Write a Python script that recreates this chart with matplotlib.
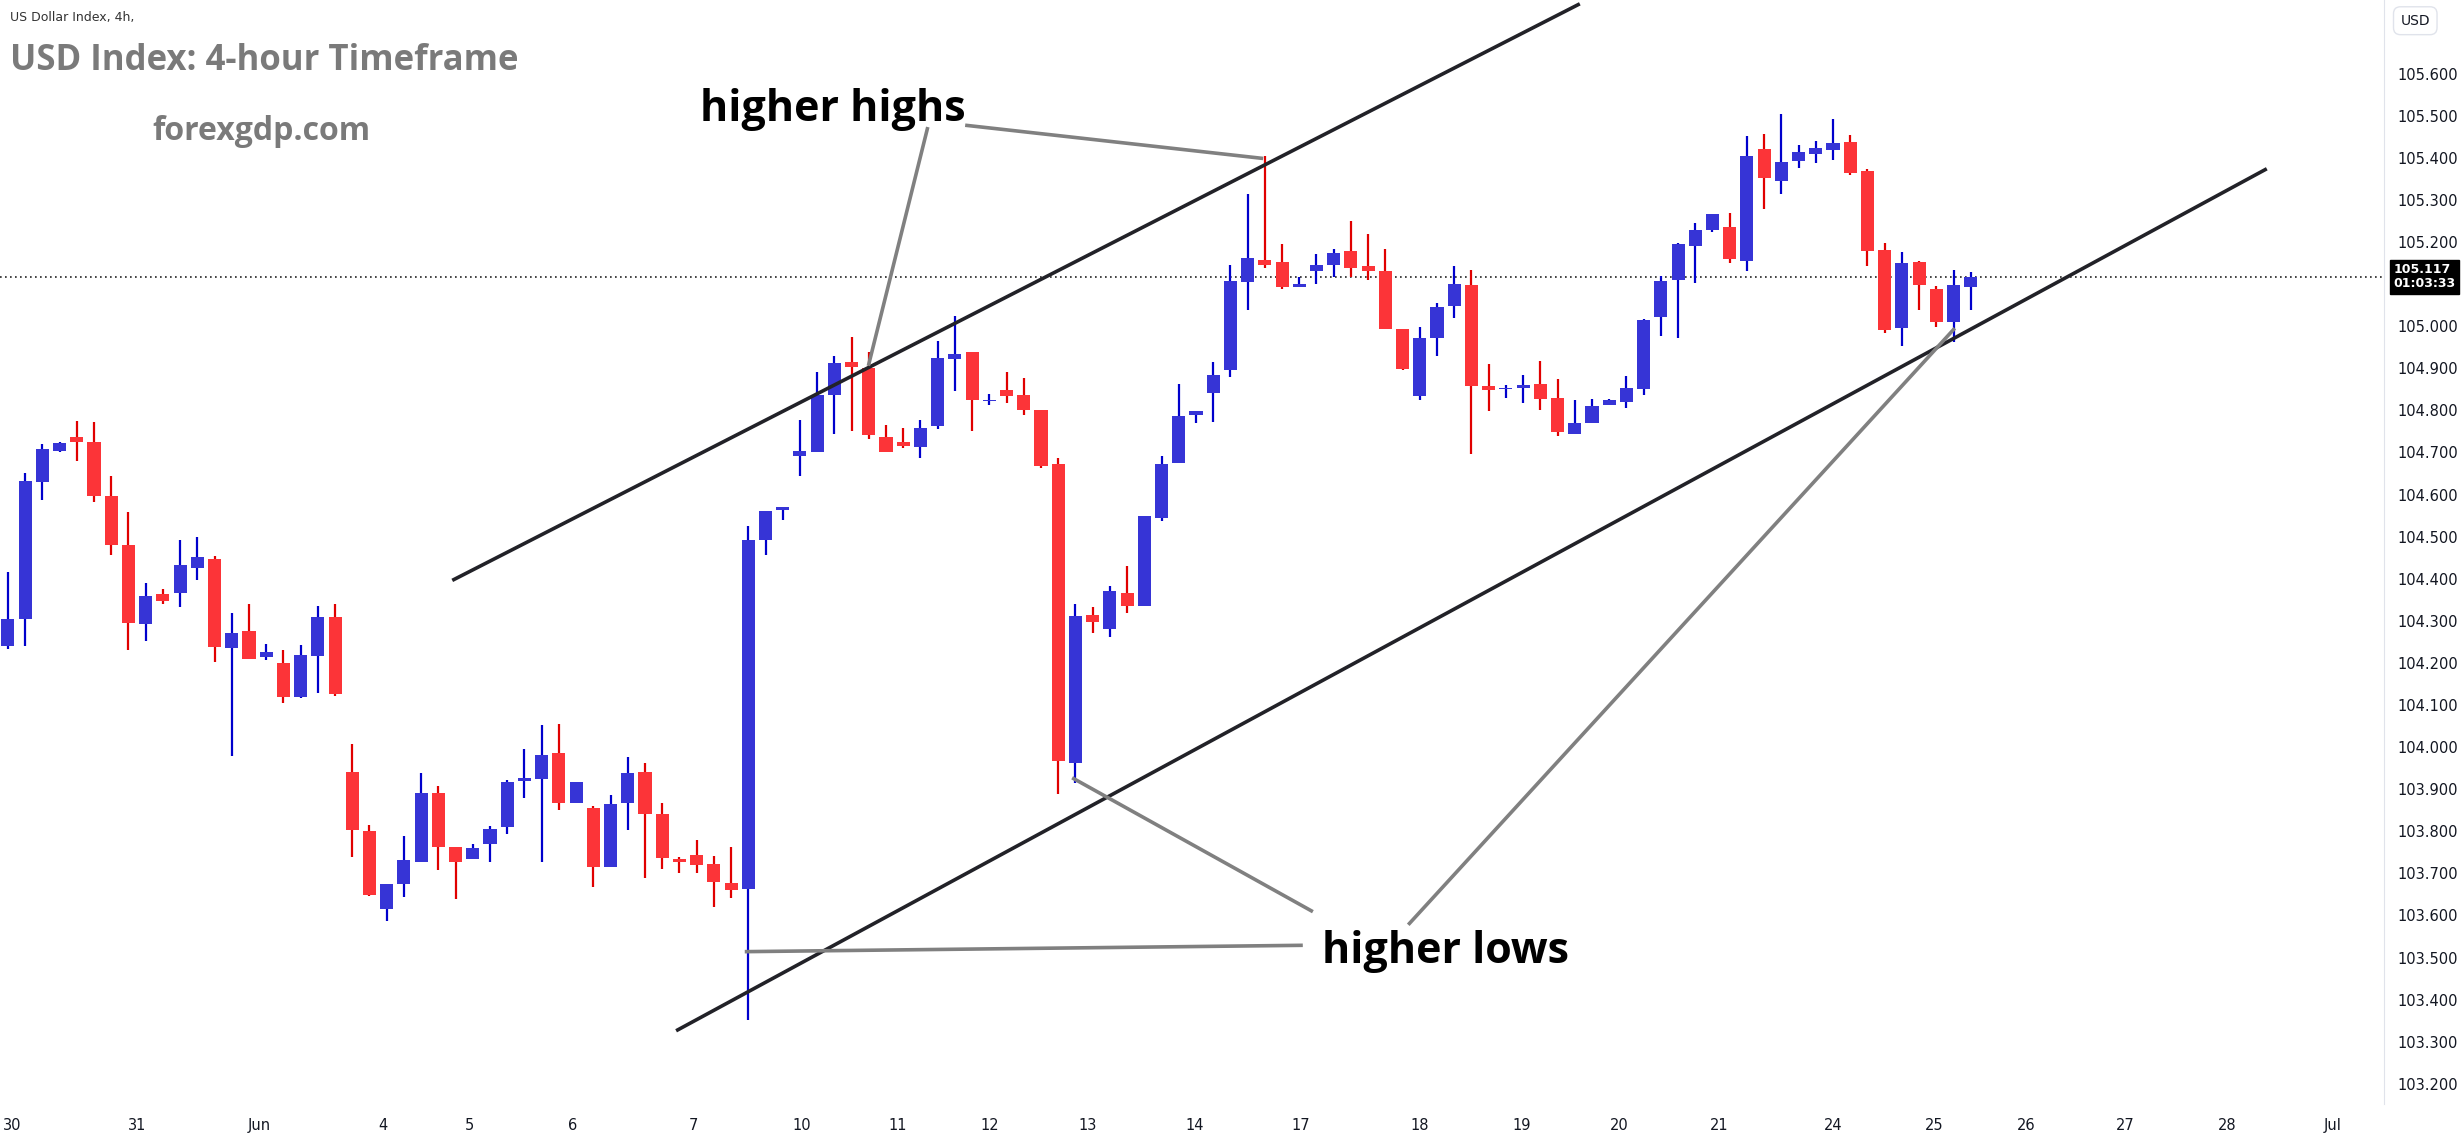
import matplotlib
matplotlib.use("Agg")
import matplotlib.pyplot as plt
import numpy as np

opens = [104.240,104.304,104.630,104.703,104.737,104.726,104.596,104.481,104.292,104.364,
         104.367,104.426,104.448,104.235,104.275,104.214,104.199,104.118,104.217,104.310,
         103.941,103.801,103.616,103.674,103.728,103.892,103.763,103.733,103.769,103.809,
         103.919,103.923,103.987,103.868,103.856,103.714,103.866,103.941,103.842,103.735,
         103.744,103.723,103.678,103.662,104.493,104.564,104.691,104.700,104.837,104.914,
         104.901,104.737,104.726,104.713,104.762,104.921,104.939,104.822,104.848,104.836,
         104.801,104.673,103.963,104.313,104.281,104.366,104.336,104.544,104.676,104.788,
         104.842,104.895,105.104,105.157,105.152,105.094,105.132,105.146,105.179,105.143,
         105.131,104.994,104.834,104.973,105.047,105.099,104.859,104.850,104.852,104.863,
         104.830,104.745,104.771,104.813,104.819,104.850,105.021,105.109,105.190,105.229,
         105.236,105.156,105.422,105.346,105.392,105.410,105.418,105.438,105.369,105.182,
         104.995,105.153,105.089,105.009,105.092]
highs = [104.416,104.651,104.720,104.726,104.774,104.772,104.645,104.559,104.390,104.375,
         104.493,104.498,104.453,104.319,104.339,104.245,104.230,104.242,104.336,104.340,
         104.008,103.815,103.675,103.789,103.939,103.908,103.763,103.769,103.812,103.922,
         103.996,104.053,104.056,103.918,103.861,103.887,103.977,103.963,103.866,103.740,
         103.780,103.742,103.763,104.526,104.562,104.570,104.776,104.892,104.930,104.975,
         104.938,104.765,104.759,104.776,104.965,105.025,104.939,104.839,104.890,104.878,
         104.801,104.688,104.340,104.332,104.383,104.431,104.548,104.692,104.863,104.799,
         104.915,105.146,105.314,105.404,105.195,105.116,105.172,105.183,105.250,105.219,
         105.184,104.994,104.998,105.055,105.144,105.134,104.909,104.860,104.885,104.918,
         104.875,104.825,104.828,104.828,104.882,105.018,105.120,105.198,105.246,105.267,
         105.270,105.452,105.457,105.505,105.431,105.441,105.493,105.455,105.373,105.198,
         105.177,105.155,105.096,105.134,105.129]
lows = [104.232,104.240,104.588,104.700,104.679,104.583,104.457,104.230,104.252,104.339,
        104.332,104.398,104.203,103.980,104.209,104.208,104.105,104.117,104.128,104.121,
        103.740,103.647,103.586,103.643,103.728,103.707,103.638,103.733,103.728,103.793,
        103.880,103.728,103.850,103.868,103.667,103.714,103.804,103.690,103.710,103.702,
        103.702,103.619,103.641,103.351,104.456,104.540,104.644,104.700,104.744,104.751,
        104.733,104.702,104.711,104.687,104.755,104.846,104.751,104.813,104.817,104.788,
        104.662,103.889,103.915,104.272,104.261,104.319,104.336,104.536,104.676,104.771,
        104.773,104.880,105.039,105.139,105.089,105.094,105.100,105.117,105.116,105.110,
        104.994,104.895,104.825,104.928,105.019,104.696,104.798,104.829,104.817,104.802,
        104.738,104.745,104.771,104.813,104.805,104.836,104.976,104.971,105.102,105.223,
        105.149,105.130,105.278,105.313,105.375,105.387,105.396,105.360,105.144,104.983,
        104.954,105.038,104.999,104.962,105.038]
closes = [104.305,104.633,104.709,104.723,104.726,104.597,104.480,104.294,104.359,104.348,
          104.432,104.451,104.238,104.272,104.210,104.225,104.120,104.219,104.310,104.126,
          103.802,103.649,103.675,103.732,103.892,103.762,103.728,103.761,103.806,103.918,
          103.927,103.982,103.866,103.918,103.714,103.865,103.939,103.840,103.736,103.726,
          103.721,103.679,103.660,104.493,104.562,104.571,104.703,104.836,104.912,104.904,
          104.742,104.702,104.715,104.759,104.925,104.935,104.824,104.822,104.835,104.802,
          104.669,103.967,104.311,104.297,104.371,104.336,104.548,104.673,104.787,104.799,
          104.884,105.108,105.162,105.146,105.092,105.100,105.146,105.174,105.139,105.132,
          104.994,104.899,104.972,105.046,105.101,104.859,104.848,104.854,104.861,104.826,
          104.749,104.771,104.811,104.825,104.854,105.015,105.108,105.196,105.229,105.267,
          105.159,105.405,105.351,105.391,105.414,105.424,105.436,105.363,105.178,104.992,
          105.151,105.097,105.009,105.099,105.117]

tick_pos = [0.27,7.48,14.6,21.8,26.8,32.8,39.8,46.1,51.7,57.0,62.7,68.9,75.1,82.0,87.9,93.6,
            99.4,106.0,111.9,117.2,123.0,128.9,135.0]
tick_labels = ["30","31","Jun","4","5","6","7","10","11","12","13","14","17","18","19","20",
               "21","24","25","26","27","28","Jul"]
price_ticks = [103.2,103.3,103.4,103.5,103.6,103.7,103.8,103.9,104.0,104.1,104.2,104.3,104.4,
               104.5,104.6,104.7,104.8,104.9,105.0,105.2,105.3,105.4,105.5,105.6]
last_price = 105.117

W, H = 2462, 1143
fig = plt.figure(figsize=(W/100, H/100), dpi=100)
fig.patch.set_facecolor("white")
ax = fig.add_axes([0, 1-1104/H, 2384/W, 1104/H])
ax.set_xlim(-0.46, 138.0)
ax.set_ylim(103.152, 105.775)

UP_B, UP_W = "#3634D6", "#0000CC"
DN_B, DN_W = "#FC3438", "#E00000"
x = np.arange(len(opens))
o, h, l, c = map(np.array, (opens, highs, lows, closes))
up = c >= o
for i in x:
    bc = UP_B if up[i] else DN_B
    wc = UP_W if up[i] else DN_W
    ax.vlines(i, l[i], h[i], color=wc, lw=1.6, zorder=2)
    bot, top = min(o[i], c[i]), max(o[i], c[i])
    hgt = max(top - bot, 0.0015)
    ax.bar(i, hgt, bottom=bot, width=0.76, color=bc, zorder=3, linewidth=0)

ax.axhline(last_price, color="#222222", lw=1.2, ls=(0, (1, 2)), zorder=1)

# channel lines
ax.plot([25.9, 91.2], [104.398, 105.764], color="#222228", lw=2.6, zorder=4)
ax.plot([38.9, 131.1], [103.328, 105.372], color="#222228", lw=2.6, zorder=4)
g = "#808080"
ax.plot([53.4, 50.0], [105.469, 104.910], color=g, lw=2.6, zorder=4)
ax.plot([55.7, 72.8], [105.477, 105.399], color=g, lw=2.6, zorder=4)
ax.plot([75.7, 61.9], [103.611, 103.925], color=g, lw=2.6, zorder=4)
ax.plot([42.9, 75.1], [103.514, 103.529], color=g, lw=2.6, zorder=4)
ax.plot([81.4, 113.0], [103.581, 104.992], color=g, lw=2.6, zorder=4)

ax.text(47.9, 105.515, "higher highs", fontsize=31, fontweight="bold", family="Open Sans",
        ha="center", va="center", color="black", zorder=6)
ax.text(83.5, 103.515, "higher lows", fontsize=31, fontweight="bold", family="Open Sans",
        ha="center", va="center", color="black", zorder=6)

fig.text(0.004, 0.985, "US Dollar Index, 4h,", fontsize=9, color="#333333", va="center")
fig.text(0.004, 0.947, "USD Index: 4-hour Timeframe", fontsize=25, fontweight="bold",
         family="Open Sans", color="#7a7a7a", va="center")
fig.text(0.062, 0.885, "forexgdp.com", fontsize=23, fontweight="bold",
         family="Open Sans", color="#7a7a7a", va="center")

ax.yaxis.tick_right()
ax.set_yticks(price_ticks)
ax.set_yticklabels([f"{p:.3f}" for p in price_ticks], fontsize=10.5, color="#131722")
ax.set_xticks(tick_pos)
ax.set_xticklabels(tick_labels, fontsize=10.5, color="#131722")
ax.tick_params(axis="both", length=0, pad=10)
for s in ["top", "left", "bottom"]:
    ax.spines[s].set_visible(False)
ax.spines["right"].set_color("#e0e3eb")

ax.text(1.004, (last_price-103.152)/(105.775-103.152), "105.117\n01:03:33",
        transform=ax.transAxes, fontsize=9, fontweight="bold", color="white", va="center",
        ha="left", linespacing=1.1,
        bbox=dict(boxstyle="square,pad=0.25", fc="black", ec="black"), zorder=10)
fig.text(0.975, 0.988, "USD", fontsize=10, color="#131722", va="top",
         bbox=dict(boxstyle="round,pad=0.5", fc="white", ec="#e0e3eb"))

fig.savefig("out.png", dpi=100, facecolor="white")
